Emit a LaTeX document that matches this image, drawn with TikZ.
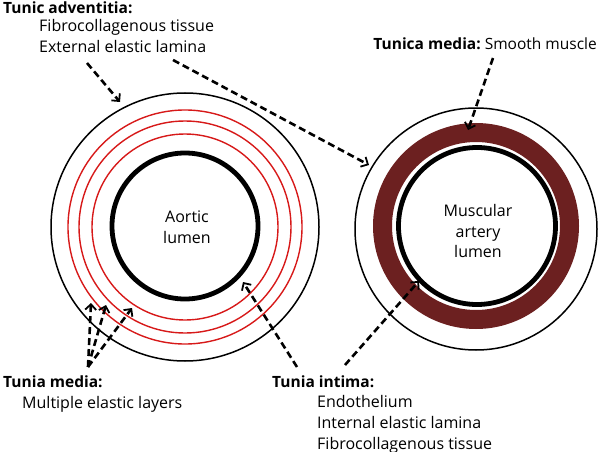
\documentclass[tikz,border=0pt]{standalone}
\usepackage{fontspec}
\setmainfont{Open Sans}
\usetikzlibrary{arrows.meta}
\definecolor{muscle}{RGB}{108,32,32}
\definecolor{elastic}{RGB}{215,25,25}
\tikzset{
  lbl/.style={anchor=base west, inner sep=0pt, font=\fontsize{16}{19}\selectfont},
  ttl/.style={lbl, font=\fontsize{15.5}{19}\selectfont\bfseries},
  ptr/.style={line width=2.6pt, dash pattern=on 7pt off 4pt, -{Straight Barb[length=5.5pt,width=11pt,line width=1.8pt]}},
  thinring/.style={line width=1.5pt},
  redring/.style={draw=elastic, line width=1.4pt},
  lumenring/.style={line width=4.8pt},
  centre/.style={align=center, font=\fontsize{16}{20.5}\selectfont, inner sep=0pt}
}
\begin{document}
\begin{tikzpicture}[x=1pt,y=-1pt]
\useasboundingbox (0,0) rectangle (600,452);
% left vessel (aorta)
\node[circle, draw, thinring, minimum size=268pt, inner sep=0pt] (aoOut) at (185,227) {};
\draw[redring] (185,227) circle[radius=117];
\draw[redring] (185,227) circle[radius=106];
\draw[redring] (185,227) circle[radius=93];
\node[circle, draw, lumenring, minimum size=146pt, inner sep=0pt] (aoLum) at (185,226) {};
\node[centre] (aoTxt) at (187,227) {Aortic\\lumen};
% right vessel (muscular artery)
\node[circle, draw, thinring, minimum size=242pt, inner sep=0pt] (maOut) at (476,229) {};
\draw[draw=muscle, line width=19pt] (476,226) circle[radius=93.5];
\node[circle, draw, lumenring, minimum size=157pt, inner sep=0pt] (maLum) at (477,226) {};
\node[centre] (maTxt) at (478,231) {Muscular\\artery\\lumen};
% labels
\node[ttl] (adv) at (3,14) {Tunic adventitia:};
\node[lbl] (adv1) at (39,32) {Fibrocollagenous tissue};
\node[lbl] (adv2) at (39,53) {External elastic lamina};
\node[ttl, anchor=base east] (tmed) at (597,50) {Tunica media:\mdseries\ Smooth muscle};
\node[ttl] (lmed) at (3,387) {Tunia media:};
\node[lbl] (lmed1) at (22,408) {Multiple elastic layers};
\node[ttl] (int) at (272,387) {Tunia intima:};
\node[lbl] (int1) at (317,407) {Endothelium};
\node[lbl] (int2) at (317,428) {Internal elastic lamina};
\node[lbl] (int3) at (317,449) {Fibrocollagenous tissue};
% arrow end points
\coordinate (a1s) at (87,63);   \coordinate (a1e) at (120,102);
\coordinate (a2s) at (173,60);  \coordinate (a2e) at (369,165);
\coordinate (tms) at (493,58);  \coordinate (tme) at (468,130);
\coordinate (m0) at (88,367);
\coordinate (m1) at (91,303);   \coordinate (m2) at (106,305);  \coordinate (m3) at (132,308);
\coordinate (i1s) at (297,367); \coordinate (i1e) at (243,282);
\coordinate (i2s) at (345,365); \coordinate (i2e) at (419,281);
% arrows
\draw[ptr] (a1s) -- (a1e);
\draw[ptr] (a2s) -- (a2e);
\draw[ptr] (tms) -- (tme);
\draw[ptr] (m0) -- (m1);
\draw[ptr] (m0) -- (m2);
\draw[ptr] (m0) -- (m3);
\draw[ptr] (i1s) -- (i1e);
\draw[ptr] (i2s) -- (i2e);
\end{tikzpicture}
\end{document}
